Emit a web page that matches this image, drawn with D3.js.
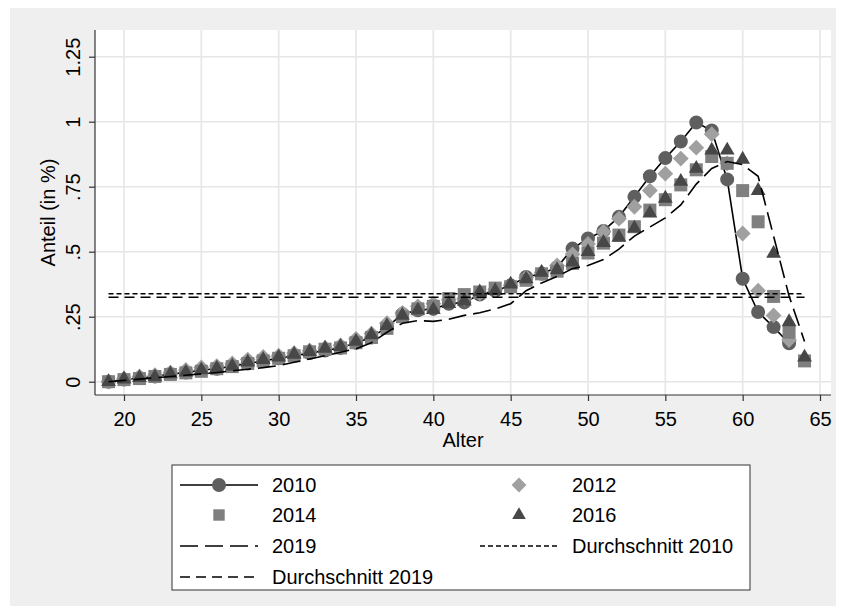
<!DOCTYPE html>
<html>
<head>
<meta charset="utf-8">
<script src="https://cdn.jsdelivr.net/npm/d3@7"></script>
<style>
  body { margin: 0; background: #ffffff; }
  svg { display: block; }
  text { font-family: "Liberation Sans", Arial, Helvetica, sans-serif; fill: #000; }
</style>
</head>
<body>
<svg id="chart" width="844" height="616"></svg>
<script>
// Age of the person (x axis)
const ages = [19, 20, 21, 22, 23, 24, 25, 26, 27, 28, 29, 30, 31, 32, 33, 34, 35, 36, 37, 38,
              39, 40, 41, 42, 43, 44, 45, 46, 47, 48, 49, 50, 51, 52, 53, 54, 55, 56, 57, 58,
              59, 60, 61, 62, 63, 64];

// Share per age (in %), one array per year
const share2010 = [0.000, 0.008, 0.014, 0.020, 0.030, 0.035, 0.045, 0.050, 0.060, 0.070,
                   0.080, 0.090, 0.100, 0.110, 0.120, 0.130, 0.150, 0.170, 0.210, 0.260,
                   0.275, 0.280, 0.300, 0.305, 0.335, 0.350, 0.370, 0.403, 0.415, 0.440,
                   0.512, 0.551, 0.580, 0.634, 0.711, 0.790, 0.860, 0.924, 0.997, 0.966,
                   0.778, 0.396, 0.268, 0.210, 0.148, null];
const share2012 = [0.000, 0.012, 0.020, 0.025, 0.035, 0.045, 0.055, 0.060, 0.070, 0.085,
                   0.095, 0.100, 0.110, 0.120, 0.130, 0.140, 0.165, 0.185, 0.225, 0.265,
                   0.290, 0.300, 0.315, 0.320, 0.340, 0.355, 0.370, 0.400, 0.420, 0.447,
                   0.490, 0.530, 0.577, 0.627, 0.673, 0.735, 0.800, 0.858, 0.900, 0.952,
                   0.840, 0.570, 0.350, 0.255, 0.160, null];
const share2014 = [0.000, 0.008, 0.012, 0.020, 0.028, 0.034, 0.040, 0.050, 0.058, 0.070,
                   0.080, 0.090, 0.100, 0.115, 0.125, 0.130, 0.150, 0.170, 0.205, 0.250,
                   0.280, 0.290, 0.320, 0.335, 0.345, 0.360, 0.365, 0.390, 0.415, 0.425,
                   0.455, 0.495, 0.533, 0.564, 0.596, 0.660, 0.700, 0.757, 0.815, 0.866,
                   0.840, 0.735, 0.615, 0.328, 0.190, 0.080];
const share2016 = [0.000, 0.010, 0.015, 0.018, 0.030, 0.036, 0.045, 0.052, 0.060, 0.075,
                   0.085, 0.094, 0.105, 0.115, 0.128, 0.135, 0.155, 0.180, 0.215, 0.255,
                   0.275, 0.277, 0.300, 0.310, 0.345, 0.350, 0.375, 0.395, 0.420, 0.430,
                   0.460, 0.500, 0.535, 0.555, 0.590, 0.648, 0.705, 0.770, 0.820, 0.890,
                   0.890, 0.855, 0.735, 0.493, 0.230, 0.094];
const share2019 = [0.000, 0.005, 0.010, 0.015, 0.020, 0.025, 0.030, 0.035, 0.042, 0.048,
                   0.054, 0.062, 0.075, 0.087, 0.100, 0.113, 0.127, 0.150, 0.190, 0.225,
                   0.235, 0.232, 0.240, 0.255, 0.265, 0.280, 0.300, 0.350, 0.380, 0.405,
                   0.435, 0.447, 0.470, 0.510, 0.560, 0.595, 0.630, 0.680, 0.760, 0.820,
                   0.847, 0.835, 0.790, 0.560, 0.330, 0.155];

// Average share over all ages
const avg2010 = 0.338;
const avg2019 = 0.325;

// Axis ticks
const xTicks = [20, 25, 30, 35, 40, 45, 50, 55, 60, 65];
const yTicks = [0, 0.25, 0.5, 0.75, 1, 1.25];
const yTickLabels = ["0", ".25", ".5", ".75", "1", "1.25"];

const seriesLabels = ["2010", "2012", "2014", "2016", "2019", "Durchschnitt 2010", "Durchschnitt 2019"];

// ---------------------------------------------------------------------------
const svg = d3.select("#chart");
const area = { left: 95, right: 831, top: 30, bottom: 395 };
const fontSize = 20;

const x = d3.scaleLinear().domain([20, 65]).range([124, 820]);
const y = d3.scaleLinear().domain([0, 1.25]).range([381.7, 56.7]);

// graph background and plot region
svg.append("rect").attr("x", 10).attr("y", 8).attr("width", 826).attr("height", 598)
  .attr("fill", "#efefef");
svg.append("rect").attr("x", area.left).attr("y", area.top)
  .attr("width", area.right - area.left).attr("height", area.bottom - area.top)
  .attr("fill", "#ffffff");

// grid
const grid = svg.append("g").attr("stroke", "#e6e6e6").attr("stroke-width", 1.6);
grid.selectAll("line.h").data(yTicks).join("line").attr("class", "h")
  .attr("x1", area.left).attr("x2", area.right)
  .attr("y1", d => y(d)).attr("y2", d => y(d));
grid.selectAll("line.v").data(xTicks).join("line").attr("class", "v")
  .attr("y1", area.top).attr("y2", area.bottom)
  .attr("x1", d => x(d)).attr("x2", d => x(d));

// axes
const yAxis = svg.append("g").attr("transform", `translate(${area.left},0)`)
  .call(d3.axisLeft(y).tickValues(yTicks).tickFormat((d, i) => yTickLabels[i])
        .tickSize(6).tickSizeOuter(0));
yAxis.select(".domain").remove();
yAxis.selectAll(".tick line").attr("stroke", "#333").attr("stroke-width", 1.2);
yAxis.selectAll(".tick text")
  .attr("x", 0).attr("y", -15).attr("dy", 0)
  .attr("text-anchor", "middle").attr("transform", "rotate(-90)")
  .style("font-size", fontSize + "px").attr("fill", "#000");

const xAxis = svg.append("g").attr("transform", `translate(0,${area.bottom})`)
  .call(d3.axisBottom(x).tickValues(xTicks).tickFormat(d3.format("d"))
        .tickSize(6).tickSizeOuter(0));
xAxis.select(".domain").remove();
xAxis.selectAll(".tick line").attr("stroke", "#333").attr("stroke-width", 1.2);
xAxis.selectAll(".tick text").attr("y", 17).attr("dy", "0.71em")
  .style("font-size", fontSize + "px").attr("fill", "#000");

svg.append("line").attr("x1", area.left).attr("x2", area.left)
  .attr("y1", area.top).attr("y2", area.bottom).attr("stroke", "#333").attr("stroke-width", 1.2);
svg.append("line").attr("x1", area.left).attr("x2", area.right)
  .attr("y1", area.bottom).attr("y2", area.bottom).attr("stroke", "#333").attr("stroke-width", 1.2);

svg.append("text").attr("transform", `translate(55,${(area.top + area.bottom) / 2}) rotate(-90)`)
  .attr("text-anchor", "middle").style("font-size", fontSize + "px").text("Anteil (in %)");
svg.append("text").attr("x", (area.left + area.right) / 2).attr("y", 447)
  .attr("text-anchor", "middle").style("font-size", fontSize + "px").text("Alter");

// marker shapes
const markers = {
  circle:   { path: d3.symbol().type(d3.symbolCircle).size(154)(),   fill: "#5f5f5f", rot: 0 },
  diamond:  { path: d3.symbol().type(d3.symbolSquare).size(125)(),   fill: "#a0a0a0", rot: 45 },
  square:   { path: d3.symbol().type(d3.symbolSquare).size(169)(),   fill: "#7f7f7f", rot: 0 },
  triangle: { path: d3.symbol().type(d3.symbolTriangle).size(95)(),  fill: "#474747", rot: 0 }
};

const pts = vals => ages.map((a, i) => ({ a, v: vals[i] })).filter(d => d.v != null);
const lineGen = d3.line().x(d => x(d.a)).y(d => y(d.v));

function drawMarkers(vals, m) {
  svg.append("g").selectAll("path").data(pts(vals)).join("path")
    .attr("d", m.path).attr("fill", m.fill)
    .attr("transform", d => `translate(${x(d.a)},${y(d.v)}) rotate(${m.rot})`);
}

// 2010: connected line with circles
svg.append("path").datum(pts(share2010)).attr("d", lineGen)
  .attr("fill", "none").attr("stroke", "#000").attr("stroke-width", 1.6);
drawMarkers(share2010, markers.circle);
drawMarkers(share2012, markers.diamond);
drawMarkers(share2014, markers.square);
drawMarkers(share2016, markers.triangle);

// 2019: long dashed line
svg.append("path").datum(pts(share2019)).attr("d", lineGen)
  .attr("fill", "none").attr("stroke", "#000").attr("stroke-width", 1.6)
  .attr("stroke-dasharray", "18,7");

// average lines over the age range
const ageExtent = d3.extent(ages);
svg.append("line").attr("x1", x(ageExtent[0])).attr("x2", x(ageExtent[1]))
  .attr("y1", y(avg2010)).attr("y2", y(avg2010))
  .attr("stroke", "#000").attr("stroke-width", 1.5).attr("stroke-dasharray", "5,3");
svg.append("line").attr("x1", x(ageExtent[0])).attr("x2", x(ageExtent[1]))
  .attr("y1", y(avg2019)).attr("y2", y(avg2019))
  .attr("stroke", "#000").attr("stroke-width", 1.5).attr("stroke-dasharray", "10,6");

// legend
const lg = svg.append("g");
lg.append("rect").attr("x", 172).attr("y", 465).attr("width", 578).attr("height", 125)
  .attr("fill", "#ffffff").attr("stroke", "#333").attr("stroke-width", 1);

const legendItems = [
  { label: seriesLabels[0], col: 0, row: 0, line: null, marker: "circle", solid: true },
  { label: seriesLabels[1], col: 1, row: 0, marker: "diamond" },
  { label: seriesLabels[2], col: 0, row: 1, marker: "square" },
  { label: seriesLabels[3], col: 1, row: 1, marker: "triangle" },
  { label: seriesLabels[4], col: 0, row: 2, dash: "18,7" },
  { label: seriesLabels[5], col: 1, row: 2, dash: "5,3" },
  { label: seriesLabels[6], col: 0, row: 3, dash: "10,6" }
];
const colKey = [180, 480];
const colText = [272, 572];
const rowY = [485, 515, 546, 577];
legendItems.forEach(it => {
  const x0 = colKey[it.col], yc = rowY[it.row];
  if (it.solid || it.dash) {
    lg.append("line").attr("x1", x0).attr("x2", x0 + 78).attr("y1", yc).attr("y2", yc)
      .attr("stroke", "#000").attr("stroke-width", 1.5)
      .attr("stroke-dasharray", it.dash || null);
  }
  if (it.marker) {
    const m = markers[it.marker];
    const s = it.marker === "circle" ? m.path : d3.symbol()
      .type(it.marker === "triangle" ? d3.symbolTriangle : d3.symbolSquare)
      .size(it.marker === "triangle" ? 80 : (it.marker === "diamond" ? 110 : 130))();
    lg.append("path").attr("d", s).attr("fill", m.fill)
      .attr("transform", `translate(${x0 + 39},${yc}) rotate(${m.rot})`);
  }
  lg.append("text").attr("x", colText[it.col]).attr("y", yc + 7)
    .style("font-size", fontSize + "px").text(it.label);
});
</script>
</body>
</html>
